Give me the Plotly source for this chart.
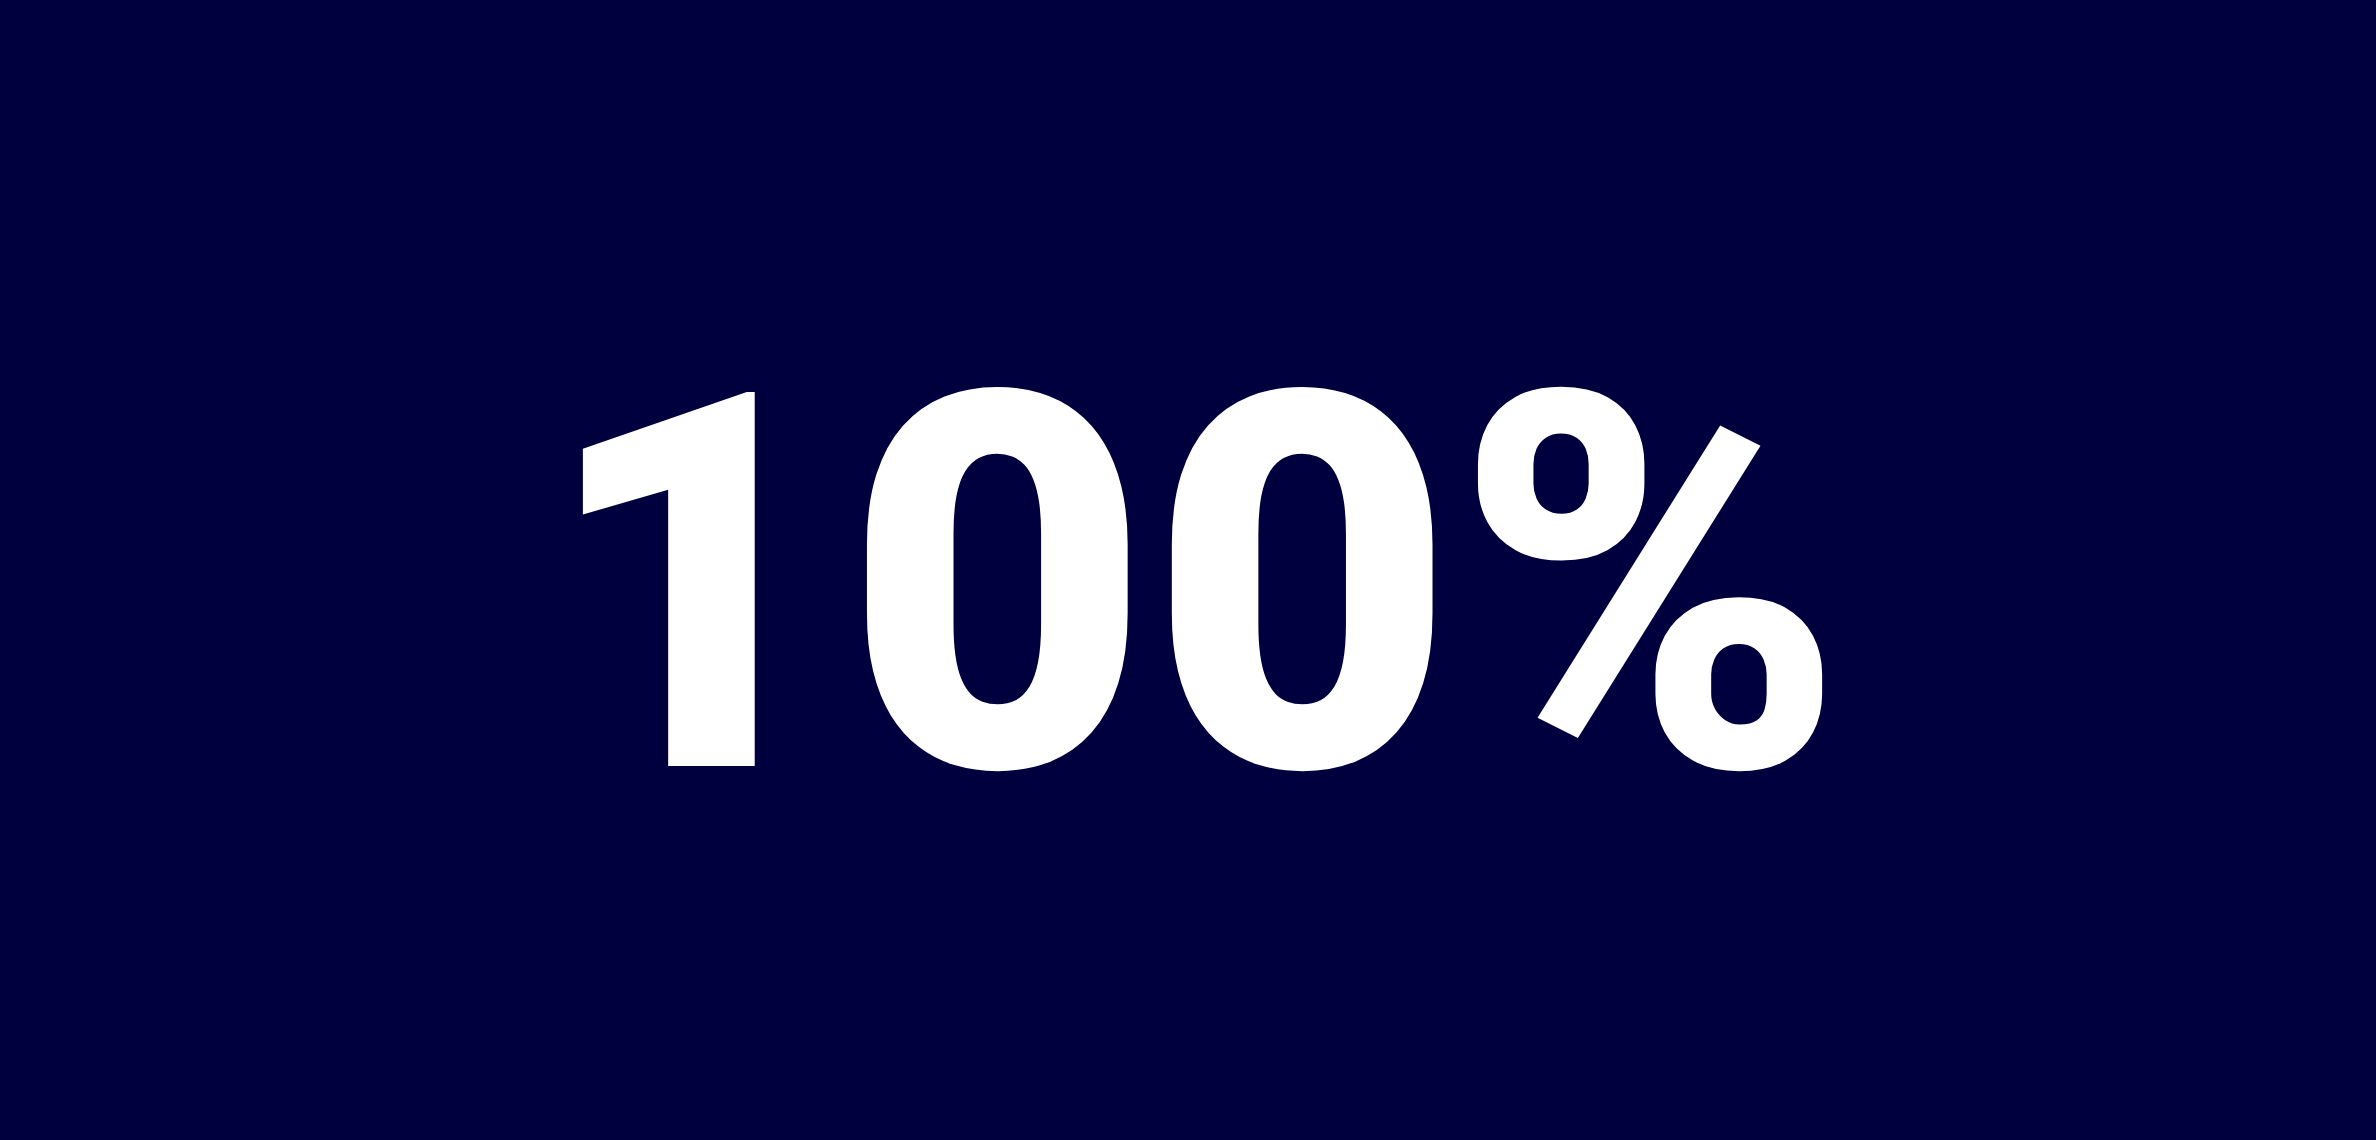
import plotly.graph_objects as go

# Data
value = 100
suffix = "%"
label = f"{value}{suffix}"

BG = "#01003F"

fig = go.Figure()
fig.add_annotation(
    text=label,
    x=0.502, y=0.486,
    xref="paper", yref="paper",
    xanchor="center", yanchor="middle",
    showarrow=False,
    font=dict(family="Roboto", size=526, color="#FFFFFF", weight=900),
)
fig.update_layout(
    width=2376, height=1140,
    margin=dict(l=0, r=0, t=0, b=0),
    paper_bgcolor=BG, plot_bgcolor=BG,
    xaxis=dict(visible=False), yaxis=dict(visible=False),
    showlegend=False,
)
fig.write_html(
    "out.html",
    config={"displayModeBar": False},
    post_script="document.body.style.margin='0';document.body.style.background='%s';document.body.style.overflow='hidden';" % BG,
)
